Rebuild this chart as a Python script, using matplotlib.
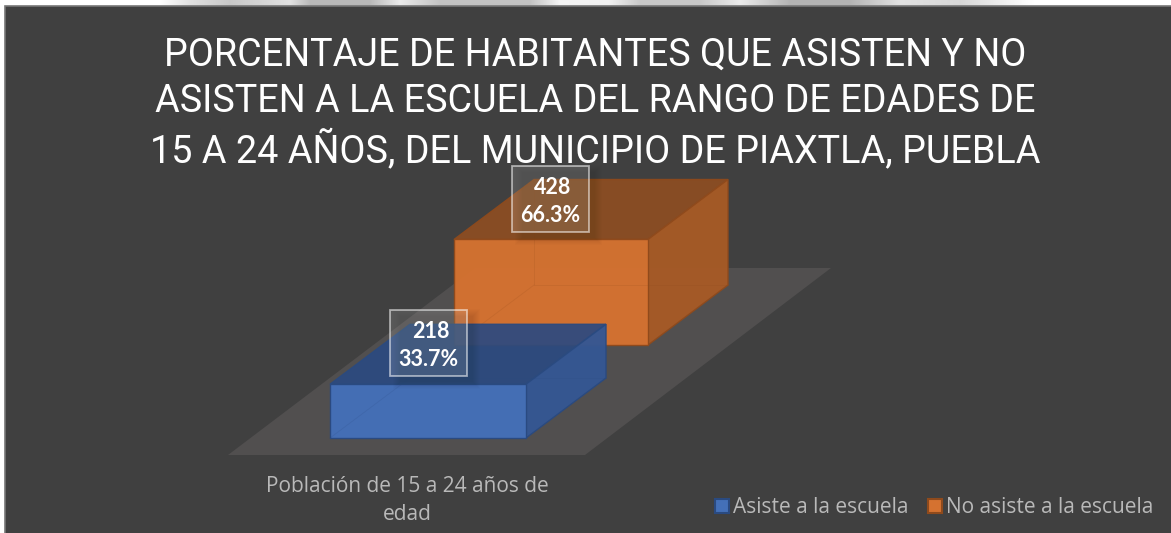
import matplotlib
matplotlib.use("Agg")
import matplotlib.pyplot as plt
import numpy as np
from matplotlib.patches import Polygon, Rectangle

# ---- data ----
categories = ["Población de 15 a 24 años de\nedad"]
series_names = ["Asiste a la escuela", "No asiste a la escuela"]
series_values = [218, 428]
series_percent = ["33.7%", "66.3%"]
title_lines = ["PORCENTAJE DE HABITANTES QUE ASISTEN Y NO",
               "ASISTEN A LA ESCUELA DEL RANGO DE EDADES DE",
               "15 A 24 AÑOS, DEL MUNICIPIO DE PIAXTLA, PUEBLA"]

# ---- style ----
BG = "#404040"
face = ["#4470b8", "#d57230"]
top = ["#2c4a80", "#8d4d22"]
side = ["#355793", "#a65a26"]
edge = ["#2a4a80", "#8f4a1c"]
PX_PER_UNIT = 0.2465
bar_x = [330, 454]
bar_w = [196, 194]
bar_base = [438, 345]
DX, DY = 80, -60
TEXT_GREY = "#b9b9b9"

fig = plt.figure(figsize=(11.71, 5.33), dpi=100, facecolor="white")
ax = fig.add_axes([0, 0, 1, 1])

# scanned page fragment above the panel
strip_x = [0, 160, 190, 230, 290, 310, 370, 400, 440, 530, 560, 610, 640, 700, 740, 790, 850, 900, 960, 1035, 1171]
strip_v = [255, 255, 225, 200, 225, 185, 185, 235, 195, 195, 245, 240, 200, 200, 235, 180, 180, 225, 215, 255, 255]
grid = np.arange(0, 1171)
strip = np.interp(grid, strip_x, strip_v)[None, :] / 255
ax.imshow(strip, extent=(0, 1171, 7, 0), aspect="auto", cmap="gray", vmin=0, vmax=1,
          interpolation="bilinear", zorder=1)
ax.set_xlim(0, 1171)
ax.set_ylim(533, 0)
ax.axis("off")

ax.add_patch(Rectangle((5, 6), 1170, 530, fc=BG, ec="#777777", lw=1.2, zorder=2))

# floor
ax.add_patch(Polygon([(228, 455), (585, 455), (831, 268), (475, 268)],
                     closed=True, fc="#514f4f", ec="none", zorder=3))


def bar(i, z):
    h = series_values[i] * PX_PER_UNIT
    x0, x1 = bar_x[i], bar_x[i] + bar_w[i]
    yb, yt = bar_base[i], bar_base[i] - h
    lw = 1.0
    ax.add_patch(Polygon([(x0, yt), (x1, yt), (x1 + DX, yt + DY), (x0 + DX, yt + DY)],
                         closed=True, fc=top[i], ec=edge[i], lw=lw, alpha=0.93, zorder=z))
    ax.add_patch(Polygon([(x1, yb), (x1, yt), (x1 + DX, yt + DY), (x1 + DX, yb + DY)],
                         closed=True, fc=side[i], ec=edge[i], lw=lw, alpha=0.97, zorder=z))
    ax.add_patch(Rectangle((x0, yt), x1 - x0, h, fc=face[i], ec=edge[i], lw=lw,
                           alpha=0.97, zorder=z + 1))
    # hidden back edges, faintly visible through the translucent faces
    ax.plot([x0 + DX, x0 + DX, x1 + DX], [yt + DY, yb + DY, yb + DY],
            color=edge[i], lw=0.6, alpha=0.18, zorder=z + 2)
    ax.plot([x0, x0 + DX], [yb, yb + DY], color=edge[i], lw=0.6, alpha=0.18, zorder=z + 2)


bar(1, 4)
bar(0, 8)

# data labels: translucent box, soft shadow, two text lines
label_box = [(390, 310, 77, 66), (512, 166, 77, 66)]
for i, (bx, by, bw, bh) in enumerate(label_box):
    for k in range(8):
        g = 2 * k
        ax.add_patch(Rectangle((bx + 10 - g / 2, by + 6 - g / 2), bw - 4 + g, bh + g,
                               fc="black", ec="none", alpha=0.012, zorder=12))
    ax.add_patch(Rectangle((bx, by), bw, bh, fc=(1, 1, 1, 0.13), ec=(1, 1, 1, 0.55),
                           lw=1.3, zorder=13))
    ax.text(bx + 41, by + 21.5, str(series_values[i]), color="white", ha="center", va="center",
            fontsize=15.5, fontweight="bold", family="Lato", zorder=14)
    ax.text(bx + 38.5, by + 50, series_percent[i], color="white", ha="center", va="center",
            fontsize=15.5, fontweight="bold", family="Lato", zorder=14)

# title
for y, line in zip([55, 101, 150], title_lines):
    ax.text(595, y, line, color="white", ha="center", va="center", fontsize=27.2,
            family="Roboto", zorder=20)

# category label
ax.text(407, 486, categories[0].split("\n")[0], color=TEXT_GREY, ha="center", va="center",
        fontsize=15, family="Open Sans", zorder=20)
ax.text(407, 515, categories[0].split("\n")[1], color=TEXT_GREY, ha="center", va="center",
        fontsize=15, family="Open Sans", zorder=20)

# legend
for i, (sx, tx) in enumerate([(715, 734), (928, 947)]):
    ax.add_patch(Rectangle((sx, 499), 14, 14, fc=face[i], ec=edge[i], lw=1.5, zorder=20))
    ax.text(tx - 1, 507.5, series_names[i], color=TEXT_GREY, ha="left", va="center",
            fontsize=15, family="Open Sans", zorder=20)

fig.savefig("out.png", dpi=100, facecolor="white")
